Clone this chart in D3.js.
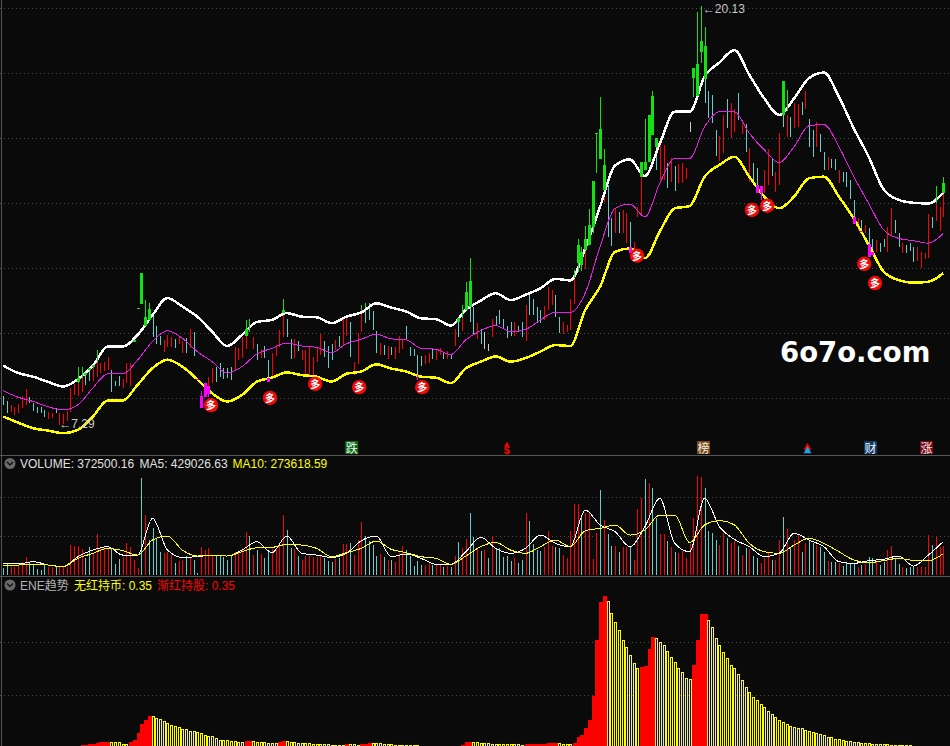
<!DOCTYPE html>
<html>
<head>
<meta charset="utf-8">
<title>K-line</title>
<script src="https://cdn.jsdelivr.net/npm/d3@7/dist/d3.min.js"></script>
<style>
    html, body { margin: 0; padding: 0; background: #0a0a0a; overflow: hidden; }
    svg { display: block; }
    text { font-family: "Liberation Sans", "Noto Sans CJK SC", sans-serif; font-size: 12px; }
</style>
</head>
<body>
<div id="chart"></div>
<script>
// one entry per trading day, 253 days
const dayHigh = [
    8.18,8.02,7.89,7.85,7.93,8.18,8.38,8.14,7.96,7.85,
    7.83,7.75,7.69,7.67,7.80,7.65,7.63,7.73,8.42,8.55,
    8.59,8.72,8.82,8.96,9.13,9.23,9.20,9.23,9.37,8.98,
    8.65,8.79,8.69,9.20,9.20,9.82,10.87,11.00,10.33,10.51,
    10.66,10.31,10.02,9.90,10.05,9.98,9.92,9.98,9.85,9.95,
    10.22,10.13,8.69,8.18,8.14,8.77,9.03,9.06,9.18,9.03,
    9.03,9.06,9.67,9.64,9.98,10.02,10.15,9.98,9.77,9.61,
    9.71,9.28,9.49,9.74,10.20,10.71,10.53,9.92,9.92,9.85,
    9.59,9.59,9.67,9.37,9.64,10.08,9.87,9.71,9.77,9.90,
    10.02,10.53,10.66,10.45,9.23,10.10,10.82,10.87,11.02,10.77,
    10.17,9.79,9.74,9.71,9.67,9.67,10.02,9.94,10.33,9.69,
    9.61,9.44,9.39,9.44,9.51,9.61,9.61,9.64,9.54,9.57,
    9.44,10.22,10.46,10.56,10.82,10.87,10.92,10.41,10.22,10.15,
    9.77,10.53,10.63,10.82,10.53,10.33,10.46,10.44,10.33,10.46,
    10.97,11.28,11.14,10.92,10.80,10.94,11.53,11.43,11.28,10.61,
    10.46,10.36,11.14,11.79,11.99,12.02,12.65,12.81,13.37,15.00,
    15.43,14.49,14.65,13.62,13.93,13.83,13.88,13.78,13.52,12.91,
    13.98,14.90,15.10,15.34,16.18,15.82,16.00,15.87,15.31,15.46,
    15.23,15.29,15.33,15.16,16.59,17.35,17.38,18.37,17.88,17.51,
    17.40,16.33,16.15,16.79,17.27,17.15,16.96,17.46,16.54,16.52,
    15.77,15.31,15.18,14.61,15.10,15.75,15.43,15.05,16.23,16.79,
    16.79,16.74,17.15,17.13,17.20,17.51,16.66,16.33,16.59,16.21,
    15.67,15.51,15.43,15.43,15.10,15.05,15.05,14.80,14.19,13.62,
    13.57,13.42,13.32,12.98,12.96,12.88,12.98,13.35,13.93,13.57,
    13.16,12.86,12.81,12.86,12.76,12.76,12.60,12.55,13.76,13.67,
    14.06,13.98,14.39
];
const dayLow = [
    7.89,7.67,7.70,7.60,7.67,7.80,7.90,7.96,7.73,7.65,
    7.67,7.53,7.46,7.49,7.65,7.29,7.31,7.42,7.70,8.21,
    8.18,8.31,8.52,8.65,8.65,8.75,8.87,8.93,8.98,8.31,
    8.47,8.49,8.42,8.57,8.47,9.82,10.87,11.00,10.33,10.51,
    10.00,9.77,9.74,9.54,9.67,9.67,9.64,9.77,9.49,9.51,
    9.64,9.39,8.69,8.18,8.14,8.49,8.59,8.62,8.77,8.69,
    8.72,8.67,8.93,9.28,9.34,9.61,10.15,9.61,9.28,9.34,
    9.34,8.72,8.77,9.39,9.67,9.98,9.98,9.30,9.34,9.57,
    9.28,8.82,8.82,8.77,9.23,9.44,9.37,9.03,9.28,9.59,
    9.67,9.74,10.02,9.36,8.85,9.16,10.15,10.43,10.51,10.20,
    9.51,9.44,9.44,9.31,9.44,9.31,9.51,9.61,9.90,9.39,
    9.39,8.82,9.10,9.16,9.18,9.30,9.28,9.44,9.30,9.30,
    9.30,9.71,9.98,10.17,10.82,10.45,10.08,9.92,9.77,9.61,
    9.57,10.00,10.36,10.39,10.26,9.97,10.02,10.02,10.15,10.00,
    9.85,10.66,10.66,10.41,10.41,10.51,10.82,10.97,10.61,10.12,
    10.08,10.15,10.20,11.00,11.99,12.02,12.06,12.81,13.16,15.00,
    15.43,14.13,13.06,12.78,13.16,13.16,13.18,12.86,12.76,12.60,
    13.67,13.70,15.10,15.34,16.18,15.10,14.80,14.80,14.54,14.75,
    14.47,14.70,14.72,14.82,16.28,17.35,17.27,18.37,17.17,16.69,
    16.54,15.53,15.39,15.62,16.38,16.08,16.28,16.64,16.21,15.67,
    14.75,14.70,14.65,14.61,14.41,14.65,14.92,14.44,14.65,16.41,
    16.13,16.13,16.38,16.41,16.79,16.97,15.82,15.49,15.82,15.67,
    15.10,15.10,15.16,15.10,14.70,14.75,14.59,14.21,13.67,13.27,
    13.27,13.16,12.84,12.60,12.60,12.60,12.73,12.60,13.11,13.16,
    12.73,12.55,12.55,12.63,12.30,12.33,12.09,12.37,12.40,13.32,
    13.55,13.22,13.67
];
// 1 = up day (red), 0 = down day (cyan)
const dayUp = [
    0,0,1,1,1,1,1,0,0,0, 0,0,1,1,0,1,1,1,1,1, 1,1,0,0,1,1,1,1,1,0, 0,0,1,1,1,1,1,0,1,0,
    0,0,0,1,1,1,0,1,1,0, 1,0,0,1,1,1,1,0,0,0, 0,0,1,1,1,1,0,1,0,1, 0,0,1,1,1,1,0,0,1,0,
    1,1,1,1,1,1,0,0,0,1, 0,1,1,0,1,1,1,0,0,0, 0,1,0,1,0,1,1,1,0,0, 0,0,0,1,1,0,1,1,0,1,
    0,1,0,1,1,0,0,1,0,1, 0,1,0,0,0,0,0,1,0,0, 1,0,0,0,0,1,1,1,0,0, 1,1,1,1,1,0,1,1,1,1,
    0,1,0,0,1,0,1,1,0,1, 1,1,0,1,0,0,1,1,0,1, 0,1,1,1,1,1,1,1,0,0, 0,0,1,1,0,1,1,0,1,0,
    1,0,0,1,1,1,0,1,1,0, 1,0,1,1,0,1,0,0,1,0, 0,1,0,0,1,0,0,0,0,1, 0,1,0,0,1,0,0,1,1,0,
    0,1,0,0,0,1,1,1,1,0, 1,1,1
];
const dojiDays = [129, 130, 184];

// the part of a day's range that pokes above the upper band
const greenDay = [20,21,22,23,24,25,35,36,37,38,39,65,66,75,96,97,122,123,124,125,153,154,155,156,157,158,159,160,161,171,172,173,174,175,185,186,187,188,209,210,250,252];
const greenHigh = [9.06,9.06,8.88,9.03,9.13,9.59,9.90,10.87,11.94,11.12,11.04,10.51,10.53,11.14,10.97,11.02,10.56,10.97,11.66,12.41,12.04,12.98,12.76,13.39,13.90,14.77,16.23,17.35,15.74,15.34,16.66,16.79,17.51,16.08,18.22,19.96,20.13,19.48,17.84,17.56,14.60,14.88];
const greenLow = [8.59,8.72,8.83,8.98,9.06,9.23,9.82,10.87,11.00,10.33,10.51,10.02,10.15,10.71,10.82,10.87,10.46,10.56,10.82,10.92,11.79,11.99,12.02,12.65,12.81,13.16,15.00,15.43,14.49,14.90,15.10,15.34,16.18,15.82,17.35,17.38,18.37,17.88,16.79,16.92,14.09,14.39];
const greenOpen = [8.73,null,8.88,9.03,9.13,null,9.90,10.87,11.94,10.61,10.84,10.23,null,10.82,null,null,10.56,null,11.38,11.69,null,12.81,12.60,12.98,13.42,14.77,16.23,16.36,15.26,15.34,15.34,16.79,17.37,16.08,18.22,18.35,19.07,18.91,17.84,null,null,14.70];
const greenClose = [8.61,null,8.83,8.98,9.06,null,9.82,10.87,11.00,10.33,10.51,10.02,null,10.71,null,null,10.46,null,10.82,10.92,null,12.24,12.19,12.65,12.81,13.37,16.23,15.43,14.49,14.90,15.10,15.34,16.18,15.82,17.92,17.38,18.73,17.88,16.79,null,null,14.39];

// the part that falls under the lower band
const pinkDay = [52,53,54,55,71,94,111,168,202,203,228,230,232,233];
const pinkHigh = [8.69,8.34,8.57,8.49,8.72,8.85,8.82,12.76,14.65,14.61,13.67,13.25,12.84,12.60];
const pinkLow = [8.69,7.82,8.14,8.14,8.62,8.81,8.67,12.57,14.41,14.19,13.45,13.21,12.45,12.50];
const pinkOpen = [8.69,8.18,8.57,8.49,8.72,null,null,12.76,14.65,14.61,13.67,13.25,12.84,12.60];
const pinkClose = [8.69,7.82,8.14,8.24,8.62,null,null,12.57,14.41,14.39,13.45,13.21,12.45,12.50];

// band lines are read every 4th day: 0, 4, 8 ... 252
const bandUpper = [
    9.11,8.88,8.77,8.61,8.47,8.69,9.10,9.69,9.69,10.05,10.66,11.18,10.92,10.61,10.15,9.71,10.05,10.45,10.51,10.72,10.61,10.59,
    10.41,10.61,10.74,11.02,10.89,10.77,10.56,10.53,10.34,10.82,11.10,11.33,11.12,11.28,11.48,11.77,11.72,
    12.70,13.98,15.24,15.43,14.92,15.92,16.89,16.89,17.97,18.40,18.78,18.02,17.30,16.79,17.30,17.92,18.09,17.35,16.38,15.51,14.51,14.19,14.10,14.08,14.41
];
const bandMid = [
    8.34,8.14,8.01,7.85,7.75,7.91,8.42,8.86,8.86,9.28,9.85,10.18,9.95,9.54,9.23,8.88,9.08,9.47,9.64,9.80,9.71,9.67,
    9.51,9.78,9.92,10.07,9.93,9.90,9.64,9.61,9.45,9.90,10.18,10.34,10.15,10.22,10.51,10.75,10.74,
    11.33,12.76,13.93,14.06,13.67,14.70,15.46,15.46,16.43,16.89,16.89,16.23,15.72,15.33,15.82,16.46,16.50,15.82,14.90,14.08,13.27,13.01,12.94,12.86,13.16
];
const bandLower = [
    7.55,7.36,7.19,7.12,7.04,7.14,7.55,8.04,8.04,8.52,9.03,9.29,9.08,8.69,8.26,8.01,8.21,8.62,8.74,8.90,8.82,8.77,
    8.62,8.86,8.93,9.15,9.02,8.93,8.77,8.74,8.57,9.03,9.23,9.39,9.23,9.34,9.54,9.74,9.71,
    10.81,11.53,12.60,12.70,12.40,13.22,13.93,14.00,14.90,15.26,15.51,14.90,14.29,13.93,14.29,14.85,14.90,14.29,13.62,12.81,11.99,11.73,11.65,11.68,11.94
];

// red 多 coins
const buyDay = [55.7,71.5,83.6,95.4,112.3,169.9,200.7,204.8,230.8,233.7];
const buyPrice = [7.90,8.12,8.55,8.45,8.45,12.48,13.88,14.01,12.23,11.64];

// little boxes on the bottom row of the price pane
const noteDay = [93.4,187.7,232.5,247.5];
const noteText = ["跌","榜","财","涨"];
const noteFill = ["#0b6b12","#7a4a12","#0e3a68","#7c0612"];

const priceTicks = [8.12,10.11,12.10,14.09,16.09,18.08,20.07];

// volume, in thousands
const volume = [
    85,137,107,107,115,171,226,149,128,73,
    64,128,107,98,107,107,107,107,384,371,
    371,333,213,354,278,525,342,342,342,329,
    141,201,235,406,354,192,85,1238,769,448,
    598,457,299,286,299,256,149,179,192,243,
    235,192,21,363,320,342,256,243,256,235,
    192,243,299,299,342,555,500,256,320,269,
    213,299,329,329,384,769,576,342,329,243,
    192,243,243,226,226,256,213,184,171,201,
    213,397,397,406,256,448,679,500,440,384,
    243,269,226,192,192,167,278,371,320,243,
    115,179,128,128,149,128,128,128,107,115,
    107,243,423,346,461,794,483,337,307,320,
    213,500,342,342,235,243,184,218,149,192,
    794,692,393,320,312,363,564,371,354,342,
    256,213,564,905,905,769,790,790,205,534,
    1089,705,525,371,371,299,363,363,354,192,
    845,991,1230,1183,1119,726,525,525,436,359,
    299,282,307,222,397,730,1268,1251,1119,564,
    534,448,384,534,470,406,436,371,256,350,
    329,243,222,154,222,286,192,192,448,743,
    585,363,448,525,299,406,448,414,384,359,
    299,179,167,167,154,120,154,158,141,107,
    128,141,231,218,167,128,171,320,371,213,
    141,107,85,98,107,107,107,107,512,384,
    487,363,372.5
];
const volMa5 = [
    149,141,171,128,107,235,320,363,256,256,726,320,226,235,256,243,320,427,286,500,278,256,
    226,278,440,500,235,269,213,137,137,299,483,342,278,342,512,406,363,833,641,555,363,
    619,982,406,299,982,619,457,363,235,278,534,448,363,171,149,184,201,243,115,256,429
];
const volMa10 = [
    128,128,137,128,107,213,278,342,312,256,448,500,320,243,256,243,299,350,354,393,384,342,
    235,286,342,436,329,286,235,213,137,243,363,418,320,278,363,448,363,568,598,641,512,
    576,769,769,414,641,696,641,406,299,278,384,470,406,299,192,158,184,213,188,184,274
];
const volTicks = [500, 1000];

// ENE histogram, one entry per day
const eneValue = [
    .2,.2,.2,.2,.2,.2,.2,.2,.2,.2,
    .2,.2,.2,.2,.2,.2,.2,.2,.2,.2,
    .2,.47,.47,.66,.66,.85,1.03,1.03,1.03,1.03,
    1.03,1.03,.72,.72,1.03,1.41,2.77,4.34,5.16,5.85,
    5.85,5.60,5.28,4.91,4.65,4.28,4.09,3.77,3.52,3.40,
    3.14,3.02,2.83,2.64,2.39,2.08,2.08,1.82,1.41,1.41,
    1.41,1.22,1.22,1.03,1.03,1.22,1.22,1.22,1.03,1.03,
    1.03,.85,.85,.85,1.03,1.22,1.22,1.03,1.03,.85,
    .85,.85,.85,.66,.66,.66,.66,.66,.47,.47,
    .47,.47,.66,.66,.66,.47,.66,.66,.85,.85,
    .85,.85,.66,.66,.66,.47,.47,.47,.47,.47,
    .47,.47,.2,.2,.2,.2,.2,.2,.2,.2,
    .2,.2,.2,.47,1.03,1.03,1.03,1.03,.85,.85,
    .85,.66,.66,.66,.66,.66,.66,.66,.66,.47,
    .66,.66,.66,.66,.66,.66,.78,.78,.78,.78,
    .6,.6,.6,.91,1.91,2.35,3.61,5.17,9.68,20.2,
    27.4,28.5,27.6,25.2,23.6,22.1,20.2,18.95,17.4,15.9,
    14.9,15.1,15.4,18.5,20.7,20.5,19.9,19.3,18.2,17.1,
    16.0,14.9,14.1,13.1,12.9,15.5,20.3,25.1,25.1,24.0,
    22.7,20.5,19.3,18.0,16.8,15.5,14.9,13.9,12.7,11.4,
    10.5,9.55,8.93,8.18,7.55,6.86,6.23,5.67,5.17,4.79,
    4.42,4.04,3.85,3.73,3.6,3.29,3.17,2.98,2.66,2.47,
    2.29,1.97,1.91,1.6,1.6,1.41,1.22,1.16,1.03,1.03,
    .85,.85,.78,.66,.66,.66,.66,.66,.47,.47,
    .47,.47,.47,.47,.2,.2,.2,.2,.2,.2,
    .2,.2,.35
];
// first and last day of every run of red bars, the rest are yellow
const eneRedRuns = [[21,28],[34,39],[65,66],[74,75],[92,92],[96,98],[123,125],[140,148],[153,161],[171,174],[185,188],[252,252]];
const eneTicks = [9.8, 19.8];

const width = 950, height = 746;
const BG = "#0a0a0a", RED = "#ff0000", CYAN = "#66cccc", GREEN = "#12e212", PINK = "#ff00ff";

const svg = d3.select("#chart").append("svg")
    .attr("width", width)
    .attr("height", height);

svg.append("rect").attr("width", width).attr("height", height).attr("fill", BG);

const xScale = d3.scaleLinear().domain([0, 252]).range([3.3, 943.3]);
const yPrice = d3.scaleLinear().domain([7.29, 20.13]).range([425, 6]);
const yVol = d3.scaleLinear().domain([0, 1000]).range([575, 497]);
const yEne = d3.scaleLinear().domain([0, 30]).range([747.5, 587.9]);

const px = d => Math.round(xScale(d));

// Dotted grid, drawn with an axis so the ticks come from the scale
function drawGrid(scale, ticks) {
    const g = svg.append("g").call(d3.axisRight(scale).tickValues(ticks).tickSize(width).tickFormat(""));
    g.select(".domain").remove();
    g.selectAll("line")
        .attr("stroke", "#4a4a4a")
        .attr("stroke-dasharray", "1 3")
        .attr("shape-rendering", "crispEdges");
}
drawGrid(yPrice, priceTicks);
drawGrid(yVol, volTicks);
drawGrid(yEne, eneTicks);

// Pane borders
[455, 576].forEach(function(y) {
    svg.append("line").attr("x1", 0).attr("x2", width).attr("y1", y + .5).attr("y2", y + .5).attr("stroke", "#555");
});
svg.append("line").attr("x1", 1.5).attr("x2", 1.5).attr("y1", 0).attr("y2", height).attr("stroke", "#555");

// Plain candles, just a one pixel range line
svg.append("g").attr("shape-rendering", "crispEdges").selectAll("rect")
    .data(d3.range(dayHigh.length))
    .enter().append("rect")
    .attr("x", d => px(d))
    .attr("width", 1)
    .attr("y", d => yPrice(dayHigh[d]))
    .attr("height", d => yPrice(dayLow[d]) - yPrice(dayHigh[d]))
    .attr("fill", d => dojiDays.includes(d) ? "#cccccc" : (dayUp[d] ? RED : CYAN));

// Band lines
const bandDays = d3.range(0, 253, 4);
function drawLine(days, values, scale, color, w) {
    const line = d3.line()
        .x((d, i) => xScale(days[i]))
        .y(d => scale(d))
        .curve(d3.curveMonotoneX);
    svg.append("path")
        .attr("d", line(values))
        .attr("fill", "none")
        .attr("stroke", color)
        .attr("stroke-width", w)
        .attr("shape-rendering", "crispEdges");
}
drawLine(bandDays, bandUpper, yPrice, "#ffffff", 2.5);
drawLine(bandDays, bandMid, yPrice, "#e81ee8", 1);
drawLine(bandDays, bandLower, yPrice, "#ffff00", 2.5);

// Candles outside the bands, these get a real body
function drawBreakouts(days, highs, lows, opens, closes, color) {
    const g = svg.append("g").attr("shape-rendering", "crispEdges");
    g.selectAll(".stick")
        .data(days)
        .enter().append("rect")
        .attr("class", "stick")
        .attr("x", d => px(d))
        .attr("width", 1)
        .attr("y", (d, i) => yPrice(highs[i]))
        .attr("height", (d, i) => yPrice(lows[i]) - yPrice(highs[i]))
        .attr("fill", color);
    g.selectAll(".body")
        .data(days.filter((d, i) => opens[i] !== null))
        .enter().append("rect")
        .attr("class", "body")
        .attr("x", d => px(d) - 1)
        .attr("width", 3)
        .attr("y", d => yPrice(opens[days.indexOf(d)]))
        .attr("height", d => Math.max(1, yPrice(closes[days.indexOf(d)]) - yPrice(opens[days.indexOf(d)])))
        .attr("fill", color);
}
drawBreakouts(greenDay, greenHigh, greenLow, greenOpen, greenClose, GREEN);
drawBreakouts(pinkDay, pinkHigh, pinkLow, pinkOpen, pinkClose, PINK);

// 多 coins
const coins = svg.append("g").selectAll("g")
    .data(buyDay)
    .enter().append("g")
    .attr("transform", (d, i) => "translate(" + xScale(d) + "," + yPrice(buyPrice[i]) + ")");
coins.append("circle").attr("r", 7.2).attr("fill", "#f00a0a");
coins.append("text")
    .attr("text-anchor", "middle")
    .attr("y", 4)
    .attr("fill", "#ffffff")
    .style("font-size", "10px")
    .style("font-weight", "bold")
    .text("多");

// High and low labels
svg.append("text").attr("x", xScale(15)).attr("y", yPrice(7.29) + 3).attr("fill", "#c8c8c8").text("←7.29");
svg.append("text").attr("x", xScale(187) + 2).attr("y", yPrice(20.13) + 7).attr("fill", "#c8c8c8").text("←20.13");

// Note boxes
const notes = svg.append("g").selectAll("g")
    .data(noteDay)
    .enter().append("g")
    .attr("transform", d => "translate(" + xScale(d) + ",447.5)");
notes.append("rect")
    .attr("x", -6.5).attr("y", -6.5).attr("width", 13).attr("height", 13)
    .attr("fill", (d, i) => noteFill[i]);
notes.append("text")
    .attr("text-anchor", "middle")
    .attr("y", 5)
    .attr("fill", "#f0f0f0")
    .text((d, i) => noteText[i]);

svg.append("text")
    .attr("x", xScale(135)).attr("y", 454)
    .attr("text-anchor", "middle")
    .attr("fill", RED)
    .style("font-size", "11px")
    .style("font-weight", "bold")
    .text("$");
svg.append("path").attr("d", d3.symbol(d3.symbolTriangle, 10)()).attr("transform", "translate(" + xScale(135) + ",444.5)").attr("fill", RED);
svg.append("path").attr("d", d3.symbol(d3.symbolTriangle, 26)()).attr("transform", "translate(" + xScale(215.6) + ",447.5)").attr("fill", RED);
svg.append("path").attr("d", d3.symbol(d3.symbolTriangle, 26)()).attr("transform", "translate(" + xScale(215.6) + ",451)").attr("fill", "#18a8f0");

// Watermark
svg.append("text")
    .attr("x", 780).attr("y", 362)
    .attr("fill", "#ffffff")
    .style("font-family", "'DejaVu Sans'")
    .style("font-weight", "bold")
    .style("font-size", "27.5px")
    .text("6o7o.com");

// Volume bars
svg.append("g").attr("shape-rendering", "crispEdges").selectAll("rect")
    .data(volume)
    .enter().append("rect")
    .attr("x", (d, i) => px(i))
    .attr("width", 1)
    .attr("y", d => yVol(d))
    .attr("height", d => yVol(0) - yVol(d))
    .attr("fill", (d, i) => dayUp[i] ? RED : CYAN);
drawLine(bandDays, volMa5, yVol, "#ffffff", 1);
drawLine(bandDays, volMa10, yVol, "#ffff00", 1);

// ENE bars: red ones are solid, yellow ones hollow (a bar with a dark core)
const isRed = i => eneRedRuns.some(r => i >= r[0] && i <= r[1]);
const eneTop = d => Math.round(yEne(d));
const eneG = svg.append("g").attr("shape-rendering", "crispEdges");
eneG.selectAll(".outer")
    .data(eneValue)
    .enter().append("rect")
    .attr("class", "outer")
    .attr("x", (d, i) => px(i) - 1)
    .attr("width", (d, i) => isRed(i) ? 4 : 3)
    .attr("y", d => eneTop(d))
    .attr("height", d => Math.max(0, 748 - eneTop(d)))
    .attr("fill", (d, i) => isRed(i) ? RED : "#ffff00");
eneG.selectAll(".core")
    .data(eneValue.map((d, i) => ({ v: d, day: i })).filter(d => !isRed(d.day)))
    .enter().append("rect")
    .attr("class", "core")
    .attr("x", d => px(d.day))
    .attr("width", 1)
    .attr("y", d => eneTop(d.v) + 1)
    .attr("height", d => Math.max(0, 747 - eneTop(d.v)))
    .attr("fill", BG);

// Pane titles
function title(x, y, color, str) {
    svg.append("text").attr("x", x).attr("y", y).attr("fill", color).text(str);
}
title(20, 467.5, "#e0e0e0", "VOLUME: 372500.16");
title(139.5, 467.5, "#e0e0e0", "MA5: 429026.63");
title(232.5, 467.5, "#ffff00", "MA10: 273618.59");
title(20, 589.5, "#b4b4b4", "ENE趋势");
title(74, 589.5, "#ffff00", "无红持币: 0.35");
title(157, 589.5, "#ff0000", "渐红持股: 0.35");

// Collapse buttons in front of the titles
[463.5, 585].forEach(function(y) {
    svg.append("circle").attr("cx", 10).attr("cy", y).attr("r", 5.5).attr("fill", "#6a6a6a");
    svg.append("path")
        .attr("d", d3.line()([[7, y - 1.5], [10, y + 1.5], [13, y - 1.5]]))
        .attr("fill", "none")
        .attr("stroke", "#161616")
        .attr("stroke-width", 1.5);
});
</script>
</body>
</html>
